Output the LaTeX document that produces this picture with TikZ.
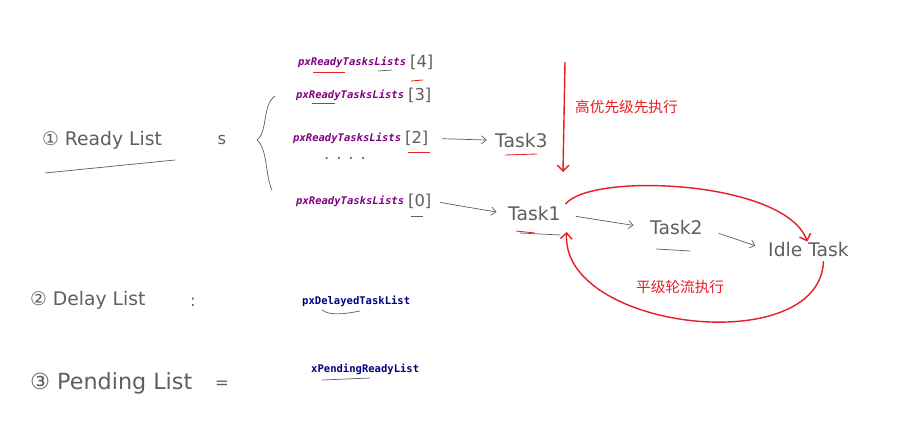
\documentclass[tikz,border=0pt]{standalone}
\usepackage{fontspec}
\usepackage{xcolor}
\usepackage{tikz}
\usetikzlibrary{shapes,arrows,arrows.meta,positioning}
\newfontfamily\handfont{DejaVu Sans}
\newfontfamily\codefont{DejaVu Sans Mono}
\newfontfamily\cjkfont{Noto Sans CJK SC}
\definecolor{ink}{RGB}{95,95,95}
\definecolor{codepurple}{RGB}{128,0,128}
\definecolor{codenavy}{RGB}{0,0,128}
\definecolor{mark}{RGB}{232,30,36}

\begin{document}
\begin{tikzpicture}[x=0.03cm, y=-0.03cm, node distance=2pt and 3pt, every node/.style={inner sep=0pt}]
\tikzstyle{hand}=[font=\handfont\fontsize{16}{18}\selectfont, text=ink]
\tikzstyle{brk}=[font=\handfont\fontsize{14}{16}\selectfont, text=ink]
\tikzstyle{readycode}=[font=\codefont\bfseries\itshape\fontsize{9}{11}\selectfont, text=codepurple]
\tikzstyle{listcode}=[font=\codefont\bfseries\fontsize{9}{11}\selectfont, text=codenavy]
\tikzstyle{note}=[font=\cjkfont\fontsize{12.5}{14}\selectfont, text=mark]
\tikzstyle{pen}=[draw=ink, line width=0.6pt]
\tikzstyle{penarrow}=[pen, -{Straight Barb[length=4pt,width=7pt]}]
\tikzstyle{redpen}=[draw=mark, line width=1.2pt]
\tikzstyle{redarrow}=[redpen, -{Straight Barb[length=5pt,width=10pt]}]
\useasboundingbox[fill=white] (0,0) rectangle (904,428);

% ready lists
\node[hand,anchor=west] (ready) at (42,140) {① Ready List};
\node[brk] (sep) at (222,140) {s};
\draw[pen] (257,140) .. controls (268,132) and (262,105) .. (275,96);
\draw[pen] (257,140) .. controls (268,150) and (265,175) .. (272,190);
\node[readycode,anchor=west] (rl4) at (298,62) {pxReadyTasksLists};
\node[brk,right=of rl4] (b4) {[4]};
\node[readycode,anchor=west] (rl3) at (296,95) {pxReadyTasksLists};
\node[brk,right=of rl3] (b3) {[3]};
\node[readycode,anchor=west] (rl2) at (293,138) {pxReadyTasksLists};
\node[brk,right=of rl2] (b2) {[2]};
\node[brk] (dots) at (345,158) {. . . .};
\node[readycode,anchor=west] (rl0) at (296,201) {pxReadyTasksLists};
\node[brk,right=of rl0] (b0) {[0]};

% tasks
\node[hand,anchor=west] (task3) at (495,141) {Task3};
\node[hand,anchor=west] (task1) at (508,214) {Task1};
\node[hand,anchor=west] (task2) at (650,228) {Task2};
\node[hand,anchor=west] (idle) at (768,250) {Idle Task};

\draw[penarrow,shorten <=0.4cm,shorten >=0.25cm] (b2) -- (task3);
\draw[penarrow,shorten <=0.25cm,shorten >=0.35cm] (b0.east) -- (task1.west);
\draw[penarrow,shorten <=0.45cm,shorten >=0.5cm] (task1.east) -- (task2.west);
\draw[penarrow,shorten <=0.5cm,shorten >=0.4cm] (task2.east) -- (idle.west);

% priority / round robin
\coordinate (hptop) at (565,62);
\coordinate (hpend) at (563,172);
\draw[redarrow] (hptop) -- (hpend);
\node[note,anchor=west] (hpnote) at (575,107) {高优先级先执行};
\draw[redarrow,shorten >=3pt] ([xshift=4pt,yshift=2pt]task1.north east) .. controls (590,172) and (785,180) .. ([yshift=-2pt]idle.north);
\draw[redarrow] ([xshift=0.45cm,yshift=-3pt]idle.south) .. controls (820,360) and (560,330) .. ([xshift=5pt,yshift=-9pt]task1.south east);
\node[note,anchor=west] (rrnote) at (636,287) {平级轮流执行};

% delay / pending lists
\node[hand,anchor=west] (delay) at (30,300) {② Delay List};
\node[brk] (colon) at (193,302) {:};
\node[listcode,anchor=west] (delayed) at (302,301) {pxDelayedTaskList};
\node[hand,anchor=west,font=\handfont\fontsize{19}{21}\selectfont] (pending) at (30,383) {③ Pending List};
\node[brk] (eq) at (222,385) {=};
\node[listcode,anchor=west] (pendready) at (311,369) {xPendingReadyList};

% underlines
\draw[pen] (45,173) -- (175,160);
\draw[redpen,line width=0.7pt] (313,72) -- (345,72);
\draw[redpen,line width=0.7pt] (411,81) -- (423,80);
\draw[pen] (378,71) -- (392,70);
\draw[pen] (312,103) -- (335,103);
\draw[redpen,line width=0.7pt] (408,152) -- (430,152);
\draw[redpen,line width=0.7pt] (505,155) -- (537,154);
\draw[pen] (411,216) -- (423,216);
\draw[redpen,line width=0.7pt] (516,231) -- (535,233);
\draw[pen] (520,233) -- (560,235);
\draw[pen] (656,249) -- (690,251);
\draw[pen] (322,310) .. controls (330,316) and (345,314) .. (360,311);
\draw[pen] (322,380) -- (370,378);
\end{tikzpicture}
\end{document}
